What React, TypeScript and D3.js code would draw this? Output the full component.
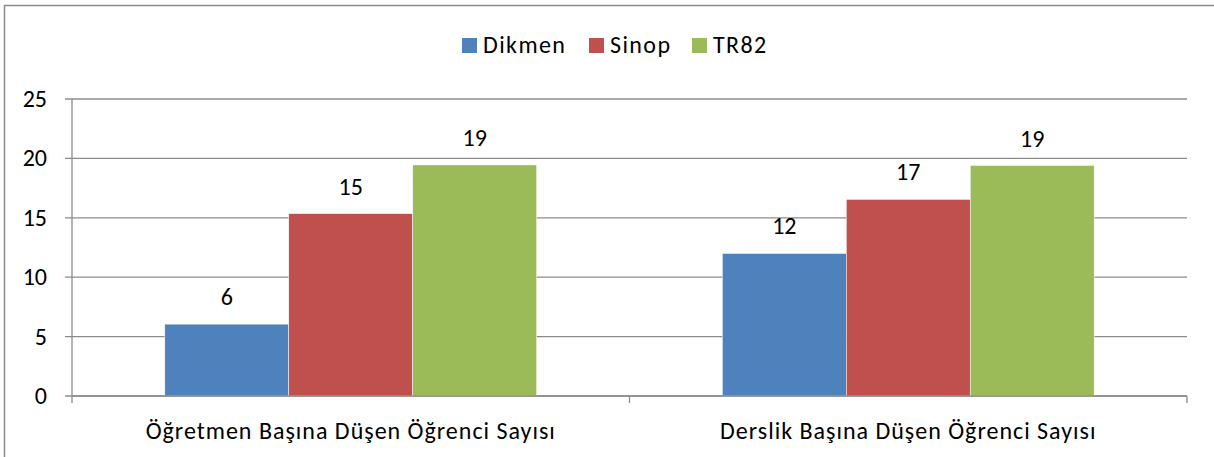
import React from "react";
import * as d3 from "d3";

const categories = [
  "Öğretmen Başına Düşen Öğrenci Sayısı",
  "Derslik Başına Düşen Öğrenci Sayısı",
];
const seriesNames = ["Dikmen", "Sinop", "TR82"];
const dikmen = [6.05, 12.0];
const sinop = [15.35, 16.55];
const tr82 = [19.45, 19.4];
const yTicks = [0, 5, 10, 15, 20, 25];
const colors = ["#4F81BD", "#C0504D", "#9BBB59"];

const W = 1214;
const H = 457;
const FONT = "Calibri, Carlito, Lato, sans-serif";
const FS = 24;

const App = () => {
  const series = [dikmen, sinop, tr82];
  const left = 72;
  const right = 1187;
  const top = 99;
  const bottom = 396;

  const x0 = d3.scaleBand().domain(categories).range([left, right]);
  // bars take about 2/3 of each category band
  const inner = 0.667;
  const x1 = d3
    .scaleBand()
    .domain(seriesNames)
    .range([0, x0.bandwidth() * inner]);
  const offset = (x0.bandwidth() * (1 - inner)) / 2;
  const y = d3.scaleLinear().domain([0, 25]).range([bottom, top]);
  const fmt = d3.format(".0f");

  const legendX = [462, 589, 692];

  return (
    <svg
      width={W}
      height={H}
      style={{ position: "absolute", left: 0, top: 0, background: "#fff" }}
      fontFamily={FONT}
    >
      {/* outer frame, runs off the right/bottom edge */}
      <rect x={4.5} y={5.5} width={W + 10} height={H + 10} fill="none" stroke="#8c8c8c" strokeWidth={1.5} />

      {/* legend */}
      {seriesNames.map((s, i) => (
        <g key={s}>
          <rect x={legendX[i]} y={38} width={15} height={15} fill={colors[i]} />
          <text x={legendX[i] + 21} y={53} fontSize={FS} letterSpacing={1.4} fill="#000">
            {s}
          </text>
        </g>
      ))}

      {/* grid */}
      {yTicks.map((t) => (
        <g key={t}>
          <line x1={left - 7} x2={right} y1={y(t)} y2={y(t)} stroke="#8c8c8c" strokeWidth={1.3} />
          <text x={47} y={y(t) + 8} fontSize={FS} textAnchor="end" fill="#000">
            {t}
          </text>
        </g>
      ))}
      <line x1={left} x2={left} y1={top} y2={bottom} stroke="#8c8c8c" strokeWidth={1.3} />

      {/* bars */}
      {categories.map((c, ci) => (
        <g key={c}>
          {seriesNames.map((s, si) => {
            const v = series[si][ci];
            const bx = (x0(c) as number) + offset + (x1(s) as number);
            return (
              <g key={s}>
                <rect
                  x={bx}
                  y={y(v)}
                  width={x1.bandwidth()}
                  height={bottom - y(v)}
                  fill={colors[si]}
                  stroke="#fff"
                  strokeWidth={0.5}
                />
                <text
                  x={bx + x1.bandwidth() / 2}
                  y={y(v) - 19}
                  fontSize={FS}
                  textAnchor="middle"
                  fill="#000"
                >
                  {fmt(v)}
                </text>
              </g>
            );
          })}
          <text
            x={(x0(c) as number) + x0.bandwidth() / 2}
            y={439}
            fontSize={FS}
            letterSpacing={1}
            textAnchor="middle"
            fill="#000"
          >
            {c}
          </text>
        </g>
      ))}

      {/* x axis */}
      <line x1={left} x2={right} y1={bottom} y2={bottom} stroke="#8c8c8c" strokeWidth={1.3} />
      {[left, (left + right) / 2, right].map((tx) => (
        <line key={tx} x1={tx} x2={tx} y1={bottom} y2={bottom + 7} stroke="#8c8c8c" strokeWidth={1.3} />
      ))}
    </svg>
  );
};

export default App;
